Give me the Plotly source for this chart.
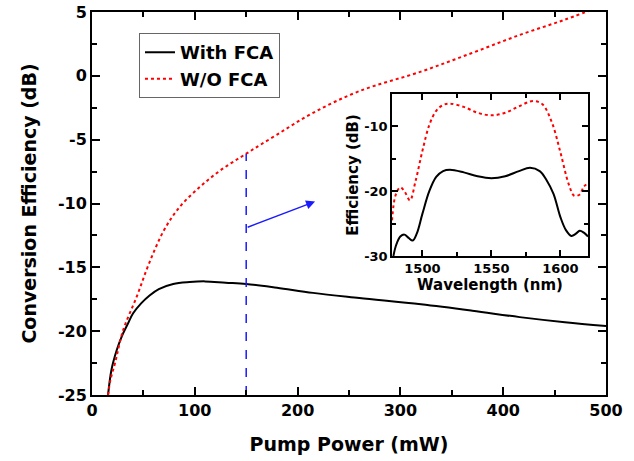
import plotly.graph_objects as go

# Main panel data
p_with = [15.6, 19, 24, 29, 35, 40, 48, 56, 65, 79, 95, 110, 130, 150, 180, 215, 260, 320, 370, 416, 460, 500]
ce_with = [-25, -23.0, -21.5, -20.4, -19.4, -18.6, -17.8, -17.2, -16.7, -16.3, -16.15, -16.1, -16.2, -16.3,
           -16.6, -17.0, -17.4, -17.9, -18.4, -18.9, -19.3, -19.6]
p_wo = [15.6, 18, 22.4, 30.4, 43.5, 55, 70, 85, 105, 125, 150, 180, 215, 260, 320, 370, 416, 460, 500]
ce_wo = [-25, -23.8, -22.5, -19.9, -17.3, -14.8, -12.1, -10.3, -8.7, -7.4, -6.1, -4.6, -2.9, -1.2, 0.33,
         1.8, 3.2, 4.4, 5.6]

# Tick labels (hyphen minus as in the original)
x_ticks = [0, 100, 200, 300, 400, 500]
y_ticks = [-25, -20, -15, -10, -5, 0, 5]
y_ticklabels = ["-25", "-20", "-15", "-10", "-5", "0", "5"]

# Marker line at 150 mW and arrow
mark_x = [150, 150]
mark_y = [-25, -6.1]
arrow_start = (150, -11.9)
arrow_end = (217, -9.85)

# Inset data
wl_wo = [1478, 1480.6, 1484, 1487, 1491, 1495, 1500, 1505, 1510, 1515, 1520, 1530, 1540, 1550, 1560, 1570,
         1580, 1587, 1594, 1600, 1606, 1610, 1614, 1617, 1620]
ef_wo = [-24.5, -20.6, -19.4, -20.0, -21.4, -18.5, -13.8, -9.8, -7.6, -6.7, -6.5, -7.0, -7.9, -8.3, -7.9,
         -6.9, -6.1, -6.6, -9.5, -14.0, -18.9, -20.7, -20.5, -19.3, -18.8]
wl_with = [1479, 1481, 1484, 1487, 1490, 1493, 1496, 1500, 1505, 1510, 1515, 1520, 1530, 1540, 1550, 1560,
           1570, 1578, 1585, 1590, 1595, 1600, 1604, 1608, 1611, 1614, 1617, 1620]
ef_with = [-30, -28.3, -27.0, -26.7, -27.2, -27.6, -26.5, -23.5, -20.0, -17.8, -16.9, -16.7, -17.1, -17.7,
           -18.0, -17.7, -16.9, -16.4, -16.9, -18.3, -20.4, -24.0, -26.0, -26.9, -26.6, -26.1, -26.4, -27.0]
inset_x_ticks = [1500, 1550, 1600]
inset_y_ticks = [-30, -20, -10]
inset_y_ticklabels = ["-30", "-20", "-10"]

FONT = "DejaVu Sans, Arial, sans-serif"

fig = go.Figure()
fig.add_trace(go.Scatter(x=p_with, y=ce_with, mode="lines", name="With FCA",
                         line=dict(color="black", width=2, shape="spline")))
fig.add_trace(go.Scatter(x=p_wo, y=ce_wo, mode="lines", name="W/O FCA",
                         line=dict(color="#ff0000", width=2, dash="dot", shape="spline")))
fig.add_trace(go.Scatter(x=mark_x, y=mark_y, mode="lines", showlegend=False,
                         line=dict(color="#1a1aff", width=1.5, dash="dash")))

fig.add_trace(go.Scatter(x=wl_with, y=ef_with, mode="lines", showlegend=False, xaxis="x2", yaxis="y2",
                         line=dict(color="black", width=2, shape="spline")))
fig.add_trace(go.Scatter(x=wl_wo, y=ef_wo, mode="lines", showlegend=False, xaxis="x2", yaxis="y2",
                         line=dict(color="#ff0000", width=2, dash="dot", shape="spline")))

fig.add_annotation(x=arrow_end[0], y=arrow_end[1], ax=arrow_start[0], ay=arrow_start[1],
                   xref="x", yref="y", axref="x", ayref="y", text="", showarrow=True,
                   arrowhead=2, arrowsize=1.2, arrowwidth=1.5, arrowcolor="#1a1aff")

axis_common = dict(showline=True, linecolor="black", linewidth=2, mirror="ticks", ticks="inside",
                   tickcolor="black", tickwidth=2, showgrid=False, zeroline=False, automargin=False)

fig.update_layout(
    width=634, height=461,
    margin=dict(l=92, r=28, t=12, b=66),
    paper_bgcolor="white", plot_bgcolor="white",
    font=dict(family=FONT, color="black", weight="bold"),
    showlegend=True,
    legend=dict(x=0.0914, y=0.945, xanchor="left", yanchor="top", bgcolor="white",
                bordercolor="#666666", borderwidth=1, font=dict(size=18, family=FONT, weight="bold"),
                tracegroupgap=0, itemwidth=30),
    xaxis=dict(axis_common, range=[0, 500], tickmode="array", tickvals=x_ticks,
               ticktext=[str(v) for v in x_ticks], ticklen=8,
               minor=dict(tickmode="linear", tick0=0, dtick=50, ticks="inside", ticklen=5, tickwidth=2,
                          tickcolor="black"),
               tickfont=dict(size=16, family=FONT, weight="bold"),
               title=dict(text="Pump Power (mW)", font=dict(size=19, family=FONT, weight="bold"), standoff=18)),
    yaxis=dict(axis_common, range=[-25, 5], tickmode="array", tickvals=y_ticks, ticktext=y_ticklabels,
               ticklen=8,
               minor=dict(tickmode="linear", tick0=0, dtick=2.5, ticks="inside", ticklen=5, tickwidth=2,
                          tickcolor="black"),
               tickfont=dict(size=16, family=FONT, weight="bold"),
               title=dict(text="Conversion Efficiency (dB)", font=dict(size=19, family=FONT, weight="bold"),
                          standoff=16)),
    xaxis2=dict(axis_common, domain=[0.5837, 0.965], anchor="y2", range=[1478, 1620],
                tickmode="array", tickvals=inset_x_ticks, ticktext=[str(v) for v in inset_x_ticks],
                ticklen=6, linewidth=1.5, tickwidth=1.5,
                minor=dict(tickmode="linear", tick0=1500, dtick=25, ticks="inside", ticklen=4, tickwidth=1.5,
                           tickcolor="black"),
                tickfont=dict(size=13, family=FONT, weight="bold"),
                title=dict(text="Wavelength (nm)", font=dict(size=15, family=FONT, weight="bold"), standoff=0)),
    yaxis2=dict(axis_common, domain=[0.3629, 0.786], anchor="x2", range=[-30, -5],
                tickmode="array", tickvals=inset_y_ticks, ticktext=inset_y_ticklabels,
                ticklen=6, linewidth=1.5, tickwidth=1.5,
                minor=dict(tickmode="linear", tick0=-30, dtick=5, ticks="inside", ticklen=4, tickwidth=1.5,
                           tickcolor="black"),
                tickfont=dict(size=13, family=FONT, weight="bold"),
                title=dict(text="Efficiency (dB)", font=dict(size=15, family=FONT, weight="bold"), standoff=2)),
)

fig.write_html("out.html", config={"displayModeBar": False},
               post_script="document.body.style.margin='0';")
